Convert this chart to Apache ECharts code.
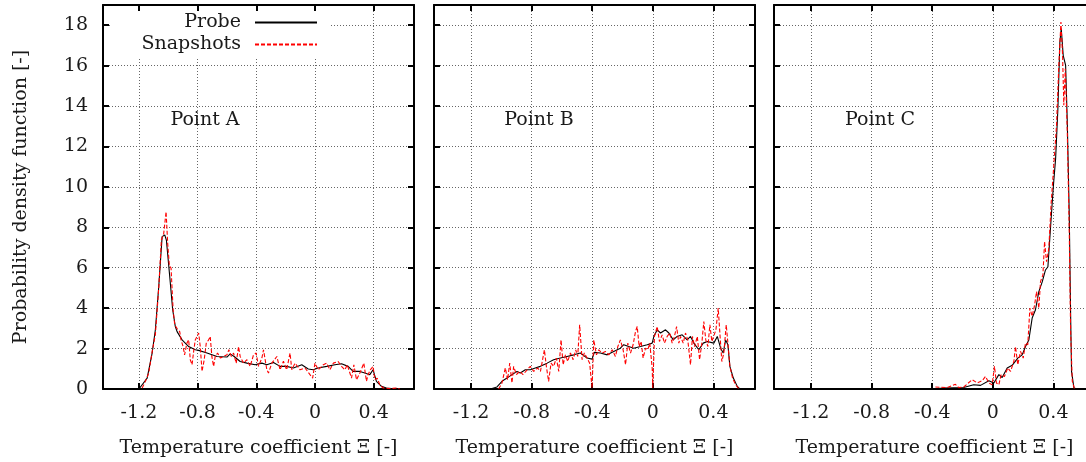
<!DOCTYPE html>
<html><head><meta charset="utf-8">
<script src="https://cdn.jsdelivr.net/npm/echarts@6/dist/echarts.min.js"></script>
<style>html,body{margin:0;padding:0;background:#fff}#c{width:1086px;height:462px}</style>
</head><body><div id="c"></div>
<script>
const xTicks = [-1.2, -0.8, -0.4, 0, 0.4];
const yTicks = [0, 2, 4, 6, 8, 10, 12, 14, 16, 18];
const panelLabels = ['Point A', 'Point B', 'Point C'];
const seriesNames = ['Probe', 'Snapshots'];
const xTitle = 'Temperature coefficient Ξ [-]';
const yTitle = 'Probability density function [-]';

const probeA = [[-1.20,0],[-1.144,0.54],[-1.11,1.78],[-1.088,2.93],[-1.065,5.07],[-1.042,7.54],[-1.024,7.62],[-1.013,7.37],[-0.99,5.56],[-0.97,3.92],[-0.952,3.09],[-0.94,2.84],[-0.906,2.43],[-0.861,2.10],[-0.816,1.94],[-0.793,1.91],[-0.736,1.78],[-0.668,1.61],[-0.60,1.58],[-0.578,1.74],[-0.551,1.61],[-0.51,1.36],[-0.464,1.28],[-0.408,1.20],[-0.362,1.28],[-0.328,1.20],[-0.283,1.31],[-0.238,1.12],[-0.193,1.12],[-0.147,1.04],[-0.09,1.20],[-0.046,0.99],[-0.012,0.95],[0.022,1.04],[0.08,1.12],[0.136,1.20],[0.181,1.25],[0.226,1.12],[0.26,0.87],[0.306,0.87],[0.34,0.79],[0.374,0.71],[0.396,0.95],[0.419,0.38],[0.453,0.13],[0.487,0.05],[0.555,0]];
const snapA = [[-1.178,0.05],[-1.156,0.38],[-1.133,0.79],[-1.11,1.85],[-1.088,2.7],[-1.065,5.0],[-1.047,7.37],[-1.031,7.7],[-1.015,8.77],[-1.004,7.2],[-0.993,6.14],[-0.981,5.97],[-0.967,3.92],[-0.956,3.18],[-0.94,2.99],[-0.922,2.84],[-0.913,2.43],[-0.899,2.1],[-0.889,1.69],[-0.873,2.27],[-0.861,2.43],[-0.85,1.45],[-0.838,1.2],[-0.827,1.86],[-0.816,2.43],[-0.804,2.6],[-0.793,2.77],[-0.782,2.1],[-0.77,0.87],[-0.755,1.45],[-0.741,2.27],[-0.725,2.43],[-0.714,2.6],[-0.703,1.61],[-0.691,1.12],[-0.68,1.61],[-0.664,1.78],[-0.645,1.53],[-0.623,1.61],[-0.6,1.69],[-0.587,1.94],[-0.57,1.61],[-0.555,1.78],[-0.537,1.28],[-0.521,2.1],[-0.51,1.61],[-0.487,1.28],[-0.464,1.45],[-0.442,1.12],[-0.419,1.69],[-0.401,1.78],[-0.385,1.12],[-0.362,1.53],[-0.351,1.94],[-0.328,0.95],[-0.317,0.79],[-0.294,1.28],[-0.26,1.61],[-0.238,0.95],[-0.215,1.37],[-0.193,0.95],[-0.17,1.78],[-0.158,0.95],[-0.136,1.28],[-0.102,0.95],[-0.068,1.04],[-0.034,0.71],[-0.016,0.54],[0.0,1.28],[0.022,0.95],[0.057,1.2],[0.08,1.28],[0.102,0.95],[0.125,1.28],[0.158,1.36],[0.181,1.12],[0.204,0.95],[0.22,1.2],[0.249,0.54],[0.265,1.2],[0.283,0.46],[0.306,0.79],[0.333,1.28],[0.351,0.38],[0.362,0.71],[0.377,0.95],[0.396,1.12],[0.408,0.46],[0.424,0.54],[0.442,0.21],[0.464,0.05],[0.51,0.02],[0.555,0.05],[0.578,0]];

const probeB = [[-1.073,0],[-1.029,0.1],[-0.996,0.38],[-0.963,0.54],[-0.93,0.71],[-0.897,0.87],[-0.875,0.79],[-0.842,0.95],[-0.809,0.95],[-0.776,1.04],[-0.743,1.12],[-0.698,1.28],[-0.655,1.45],[-0.61,1.53],[-0.566,1.61],[-0.522,1.69],[-0.478,1.78],[-0.434,1.53],[-0.401,1.48],[-0.386,1.81],[-0.346,1.78],[-0.301,1.69],[-0.258,1.86],[-0.214,2.02],[-0.192,2.19],[-0.159,2.10],[-0.126,2.02],[-0.081,2.10],[-0.037,2.19],[-0.004,2.27],[0.007,2.6],[0.029,2.93],[0.051,2.77],[0.084,2.93],[0.106,2.77],[0.135,2.43],[0.161,2.6],[0.194,2.68],[0.227,2.43],[0.249,2.6],[0.271,2.27],[0.304,1.94],[0.333,2.27],[0.36,2.35],[0.403,2.27],[0.426,2.6],[0.448,2.02],[0.465,1.78],[0.481,2.43],[0.496,2.19],[0.509,1.12],[0.532,0.54],[0.558,0.13],[0.575,0]];
const snapB = [[-1.018,0],[-0.996,0.30],[-0.974,1.04],[-0.959,0.46],[-0.945,1.28],[-0.930,0.30],[-0.919,1.12],[-0.901,0.71],[-0.879,0.87],[-0.857,0.71],[-0.830,0.95],[-0.809,1.12],[-0.787,0.87],[-0.760,1.04],[-0.742,0.87],[-0.716,1.94],[-0.703,1.12],[-0.688,0.38],[-0.672,1.28],[-0.655,1.12],[-0.637,1.53],[-0.621,0.87],[-0.606,2.43],[-0.592,1.20],[-0.577,1.69],[-0.562,1.36],[-0.544,1.78],[-0.526,1.45],[-0.509,1.94],[-0.496,1.61],[-0.483,3.18],[-0.467,1.45],[-0.452,1.78],[-0.434,1.53],[-0.417,1.28],[-0.401,0.05],[-0.390,2.43],[-0.372,1.69],[-0.357,1.94],[-0.335,1.78],[-0.313,1.86],[-0.291,1.69],[-0.268,1.94],[-0.247,1.61],[-0.231,2.10],[-0.214,2.43],[-0.196,1.94],[-0.180,1.20],[-0.165,2.27],[-0.147,1.78],[-0.130,2.19],[-0.114,2.85],[-0.103,3.09],[-0.090,2.10],[-0.077,2.35],[-0.064,1.53],[-0.048,2.02],[-0.033,1.94],[-0.020,2.27],[-0.004,1.04],[0.0,0.05],[0.011,2.60],[0.029,3.09],[0.044,2.35],[0.062,2.68],[0.077,2.27],[0.095,2.60],[0.112,2.77],[0.128,2.27],[0.143,2.60],[0.157,3.09],[0.172,2.27],[0.183,2.60],[0.201,2.27],[0.216,2.77],[0.231,2.43],[0.249,1.20],[0.262,2.60],[0.276,2.10],[0.294,2.60],[0.309,1.45],[0.324,2.27],[0.337,3.34],[0.350,2.43],[0.364,2.10],[0.377,3.18],[0.390,2.35],[0.403,2.27],[0.417,2.93],[0.432,4.0],[0.443,2.77],[0.456,1.36],[0.469,1.78],[0.485,3.18],[0.498,2.10],[0.509,1.12],[0.527,0.54],[0.547,0.21],[0.569,0]];

const probeC = [[-0.40,0],[-0.324,0.05],[-0.192,0.07],[-0.126,0.21],[-0.081,0.18],[-0.026,0.41],[0.007,0.30],[0.040,0.71],[0.062,0.57],[0.095,1.04],[0.128,1.17],[0.165,1.53],[0.194,1.69],[0.216,2.10],[0.238,2.43],[0.260,3.51],[0.282,3.92],[0.304,4.82],[0.327,5.31],[0.348,5.89],[0.364,6.05],[0.381,7.95],[0.399,9.93],[0.415,11.41],[0.430,13.88],[0.443,17.17],[0.452,17.83],[0.465,16.51],[0.481,16.01],[0.492,13.21],[0.505,8.61],[0.514,3.67],[0.520,0.87],[0.536,0.05],[0.558,0]];
const snapC = [[-0.379,0.10],[-0.30,0.07],[-0.247,0.23],[-0.225,0.07],[-0.192,0.10],[-0.136,0.46],[-0.103,0.30],[-0.070,0.41],[-0.048,0.62],[-0.026,0.30],[-0.004,0.21],[0.011,1.12],[0.024,0.30],[0.040,0.21],[0.055,0.71],[0.077,0.62],[0.099,1.04],[0.117,0.87],[0.139,1.36],[0.150,2.10],[0.165,1.20],[0.183,1.86],[0.201,1.53],[0.216,2.27],[0.231,2.19],[0.245,4.0],[0.260,3.6],[0.276,4.15],[0.289,4.82],[0.304,4.0],[0.315,5.31],[0.331,5.64],[0.342,7.29],[0.355,6.3],[0.370,6.96],[0.386,9.27],[0.403,11.08],[0.421,13.05],[0.436,16.0],[0.450,18.16],[0.461,16.5],[0.469,14.04],[0.479,15.85],[0.492,12.72],[0.505,7.78],[0.514,2.85],[0.525,0.38],[0.540,0]];

const probes = [probeA, probeB, probeC];
const snaps = [snapA, snapB, snapC];

const FONT = 'DejaVu Serif';
const FS = 19;
const TXT = '#1a1a1a';
const X_MIN = -1.445, X_MAX = 0.675, Y_MIN = 0, Y_MAX = 19;
const gridBoxes = [{left: 103, width: 311}, {left: 434, width: 321}, {left: 774, width: 321}];
const frame = {show: true, onZero: false, lineStyle: {color: '#000', width: 2}};
const dotted = {show: true, lineStyle: {color: '#666', width: 1, type: [1, 2]}};
const tick = (vals) => ({show: true, inside: true, length: 6, customValues: vals, lineStyle: {color: '#000', width: 2}});

const grid = [], xAxis = [], yAxis = [], series = [];
gridBoxes.forEach((g, i) => {
  grid.push({left: g.left, width: g.width, top: 5, height: 384, outerBoundsMode: 'none', containLabel: false});
  xAxis.push({
    type: 'value', gridIndex: i, min: X_MIN, max: X_MAX, position: 'bottom', z: 0,
    axisLine: frame, axisTick: tick(xTicks),
    axisLabel: {show: true, customValues: xTicks, margin: 15, fontFamily: FONT, fontSize: FS, color: TXT},
    splitLine: dotted,
    name: xTitle, nameLocation: 'middle', nameGap: 50,
    nameTextStyle: {fontFamily: FONT, fontSize: FS, color: TXT}
  });
  xAxis.push({
    type: 'value', gridIndex: i, min: X_MIN, max: X_MAX, position: 'top', z: 3,
    axisLine: frame, axisTick: tick(xTicks), axisLabel: {show: false}, splitLine: {show: false}
  });
  yAxis.push({
    type: 'value', gridIndex: i, min: Y_MIN, max: Y_MAX, position: 'left', z: 0,
    axisLine: frame, axisTick: tick(yTicks),
    axisLabel: {show: i === 0, customValues: yTicks, margin: 15, fontFamily: FONT, fontSize: FS, color: TXT},
    splitLine: dotted,
    name: i === 0 ? yTitle : '', nameLocation: 'middle', nameGap: 72,
    nameTextStyle: {fontFamily: FONT, fontSize: FS, color: TXT}
  });
  yAxis.push({
    type: 'value', gridIndex: i, min: Y_MIN, max: Y_MAX, position: 'right', z: 3,
    axisLine: frame, axisTick: tick(yTicks), axisLabel: {show: false}, splitLine: {show: false}
  });
  series.push({
    name: seriesNames[0], type: 'line', xAxisIndex: 2 * i, yAxisIndex: 2 * i, data: probes[i],
    symbol: 'none', lineStyle: {color: '#000', width: 1.1}, itemStyle: {color: '#000'}, z: 2, clip: true
  });
  series.push({
    name: seriesNames[1], type: 'line', xAxisIndex: 2 * i, yAxisIndex: 2 * i, data: snaps[i],
    symbol: 'none', lineStyle: {color: '#ff0000', width: 1.1, type: [4, 2]}, itemStyle: {color: '#ff0000'}, z: 3, clip: true
  });
});

const legendBase = {
  orient: 'horizontal', align: 'right', right: 768, itemWidth: 62, itemHeight: 14, padding: 0,
  selectedMode: false, itemStyle: {opacity: 0},
  textStyle: {fontFamily: FONT, fontSize: FS, color: TXT, padding: [0, 9, 0, 0]}
};
const legend = [
  Object.assign({}, legendBase, {data: [seriesNames[0]], top: 13}),
  Object.assign({}, legendBase, {data: [seriesNames[1]], top: 35})
];

const labelPos = [[205, 120], [539, 120], [880, 120]];
const graphic = [{type: 'rect', z: 1, silent: true, shape: {x: 111, y: 7, width: 219, height: 50}, style: {fill: '#fff'}}];
panelLabels.forEach((t, i) => {
  graphic.push({type: 'text', z: 5, x: labelPos[i][0], y: labelPos[i][1],
    style: {text: t, font: FS + 'px "' + FONT + '"', fill: TXT, align: 'center', verticalAlign: 'middle', textAlign: 'center', textVerticalAlign: 'middle'}});
});

const chart = echarts.init(document.getElementById('c'), null, {renderer: 'canvas'});
chart.setOption({animation: false, backgroundColor: '#fff', grid, xAxis, yAxis, series, legend, graphic});
</script></body></html>
